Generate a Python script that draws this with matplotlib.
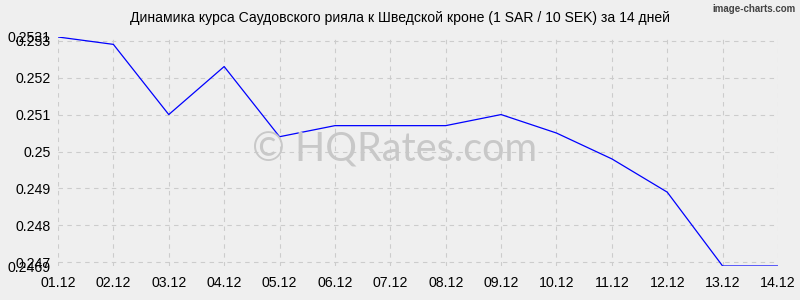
import matplotlib
matplotlib.use("Agg")
import matplotlib.pyplot as plt

plt.rcParams['font.family'] = ['Liberation Sans', 'DejaVu Sans']

# data
dates = ["01.12", "02.12", "03.12", "04.12", "05.12", "06.12", "07.12",
         "08.12", "09.12", "10.12", "11.12", "12.12", "13.12", "14.12"]
rates = [0.2531, 0.2529, 0.2510, 0.2523, 0.2504, 0.2507, 0.2507,
         0.2507, 0.2510, 0.2505, 0.2498, 0.2489, 0.2469, 0.2469]
y_ticks = [0.2469, 0.247, 0.248, 0.249, 0.25, 0.251, 0.252, 0.253, 0.2531]
y_labels = ["0.2469", "0.247", "0.248", "0.249", "0.25", "0.251", "0.252", "0.253", "0.2531"]

bg = "#efefef"
fig = plt.figure(figsize=(8, 3), dpi=100, facecolor=bg)
ax = fig.add_axes([0.0725, 0.1133, 0.9, 0.7634], facecolor=bg)

x = list(range(len(dates)))
ax.plot(x, rates, color="#0000ff", lw=0.9, zorder=3)

ax.set_xlim(0, len(dates) - 1)
ax.set_ylim(min(y_ticks), max(y_ticks))
ax.set_xticks(x)
ax.set_xticklabels(dates, fontsize=10.2)
ax.set_yticks(y_ticks)
ax.set_yticklabels(y_labels, fontsize=10.2)
ax.tick_params(length=0, pad=5)
ax.tick_params(axis="x", pad=7)
for s in ax.spines.values():
    s.set_visible(False)

# grid lines only at the round ticks
for xi in x:
    ax.axvline(xi, color="#cccccc", ls=(0, (4, 4)), lw=0.8, zorder=1)
for yt in y_ticks[1:-1]:
    ax.axhline(yt, color="#cccccc", ls=(0, (4, 4)), lw=0.8, zorder=1)

fig.text(0.5, 0.94, "Динамика курса Саудовского рияла к Шведской кроне (1 SAR / 10 SEK) за 14 дней",
         fontsize=10.1, ha="center", va="center")
fig.text(0.493, 0.5, "© HQRates.com", fontsize=28.5, color="#c8c8c8",
         ha="center", va="center", family=["Lato", "DejaVu Sans"], zorder=0)
fig.text(0.995, 0.985, "image-charts.com", fontsize=7, color="#444444",
         ha="right", va="top", fontweight="bold")

fig.savefig("out.png", dpi=100, facecolor=bg)
